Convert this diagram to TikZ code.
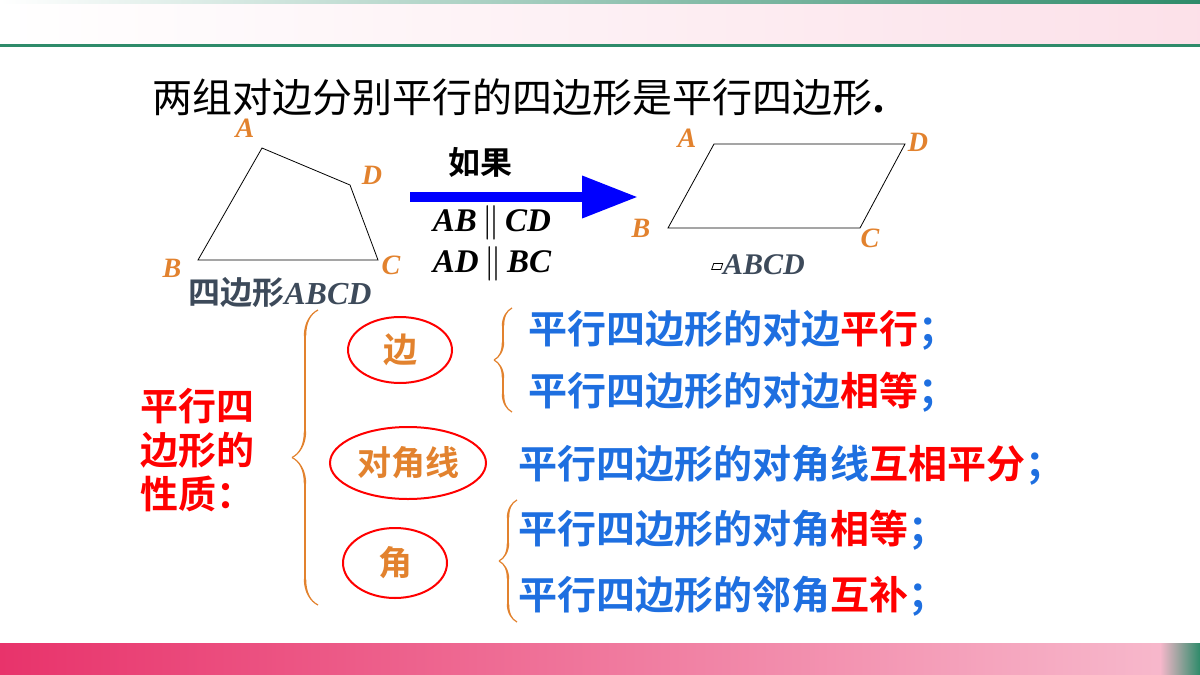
\documentclass[tikz,border=0pt]{standalone}
\usepackage{fontspec}
\setmainfont{Liberation Serif}
\newfontfamily\cjk{Noto Sans CJK SC}[BoldFont=* Bold]
\usetikzlibrary{arrows.meta,decorations.pathreplacing,calligraphy,shapes.geometric}
\definecolor{barpink}{HTML}{E8336B}
\definecolor{bargreen}{HTML}{2E8B6A}
\definecolor{ptorange}{HTML}{E2822E}
\definecolor{ptblue}{HTML}{1E6FE0}
\definecolor{ptgray}{HTML}{3D4A5A}
\newcommand\parasign{\,$\parallel$\,}
\tikzset{
  vlabel/.style={text=ptorange, font=\fontsize{14}{14}\selectfont\bfseries\itshape},
  zh/.style={font=\cjk\fontsize{16}{16}\selectfont, anchor=west, inner sep=0pt},
  prop/.style={zh, font=\cjk\bfseries\fontsize{19.5}{19.5}\selectfont, text=ptblue},
  ring/.style={draw=red, line width=1pt, ellipse, inner sep=0pt, minimum width=#1, text=ptorange,
    font=\cjk\bfseries\fontsize{17}{17}\selectfont},
  brace/.style={ptorange, pen colour={ptorange}, line width=1.2pt, decorate,
    decoration={calligraphic brace, amplitude=#1}}
}
\begin{document}
\begin{tikzpicture}[x=0.5pt, y=-0.5pt]
  \useasboundingbox (0,0) rectangle (1200,675);
  % Bars at top and bottom
  \shade[left color=white, right color=barpink!15] (0,3) rectangle (1200,45);
  \shade[left color=white, right color=bargreen] (0,0) rectangle (1200,3);
  \fill[bargreen] (0,44) rectangle (1200,47);
  \shade[left color=barpink, right color=barpink!35] (0,643) rectangle (1160,675);
  \shade[left color=barpink!35, right color=bargreen] (1160,643) rectangle (1200,675);

  % Title
  \node[zh, font=\cjk\fontsize{20}{20}\selectfont] (title) at (152,97) {两组对边分别平行的四边形是平行四边形\textbf{.}};

  % Quadrilateral
  \coordinate (A) at (262,148);
  \coordinate (D) at (350,185);
  \coordinate (C) at (378,260);
  \coordinate (B) at (198,260);
  \draw (A) -- (D) -- (C) -- (B) -- cycle;
  \node[vlabel] at (245,128) {A};
  \node[vlabel] at (372,175) {D};
  \node[vlabel] at (391,265) {C};
  \node[vlabel] at (172,268) {B};
  \node[zh, text=ptgray, font=\cjk\bfseries\fontsize{16}{16}\selectfont] (quad) at (188,293)
    {四边形\fontspec{Liberation Serif}\itshape ABCD};

  % Arrow with conditions
  \coordinate (arrS) at (410,197);
  \coordinate (arrE) at (638,197);
  \draw[blue, line width=5pt, -{Triangle[length=28pt,width=20pt]}] (arrS) -- (arrE);
  \node[zh, font=\cjk\bfseries\fontsize{16}{16}\selectfont] (if) at (448,162) {如果};
  \node[font=\fontsize{16.5}{16.5}\selectfont\bfseries\itshape] (c1) at (492,223) {AB\parasign CD};
  \node[font=\fontsize{16.5}{16.5}\selectfont\bfseries\itshape] (c2) at (492,264) {AD\parasign BC};

  % Parallelogram
  \coordinate (P) at (714,144);
  \coordinate (Q) at (905,144);
  \coordinate (R) at (860,228);
  \coordinate (S) at (668,228);
  \draw (P) -- (Q) -- (R) -- (S) -- cycle;
  \node[vlabel] at (687,138) {A};
  \node[vlabel] at (918,142) {D};
  \node[vlabel] at (870,238) {C};
  \node[vlabel] at (641,228) {B};
  \node[text=ptgray, font=\fontsize{15}{15}\selectfont\bfseries\itshape] (pgram) at (758,265)
    {\raisebox{0.35ex}{\tikz[x=1pt,y=1pt]\draw[black,thin] (0,0) -- (4.5,0) -- (5.5,3) -- (1,3) -- cycle;}ABCD};

  % Properties
  \draw[brace=13pt] (318,605) -- (318,310);
  \node[zh, text=red, font=\cjk\bfseries\fontsize{19}{22}\selectfont, align=left] (props) at (140,450)
    {平行四\\边形的\\性质：};
  \node[ring=52pt, minimum height=33pt] (side) at (400,350) {边};
  \node[ring=78pt, minimum height=36pt] (diag) at (408,463) {对角线};
  \node[ring=52pt, minimum height=35pt] (angle) at (395,563) {角};
  \draw[brace=9pt] (512,412) -- (512,308);
  \draw[brace=9pt] (517,622) -- (517,500);
  \node[prop] (p1) at (528,330) {平行四边形的对边\textcolor{red}{平行}；};
  \node[prop] (p2) at (528,392) {平行四边形的对边\textcolor{red}{相等}；};
  \node[prop] (p3) at (518,465) {平行四边形的对角线\textcolor{red}{互相平分}；};
  \node[prop] (p4) at (518,530) {平行四边形的对角\textcolor{red}{相等}；};
  \node[prop] (p5) at (518,596) {平行四边形的邻角\textcolor{red}{互补}；};
\end{tikzpicture}
\end{document}
